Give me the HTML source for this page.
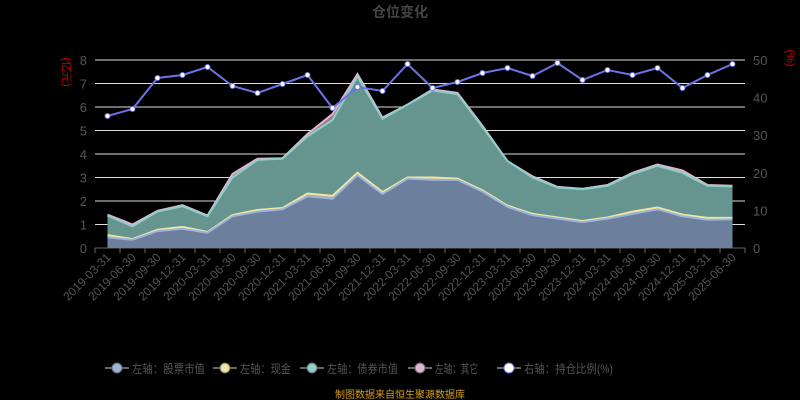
<!DOCTYPE html>
<html><head><meta charset="utf-8"><style>
html,body{margin:0;padding:0;background:#000;width:800px;height:400px;overflow:hidden}
svg text{font-family:"Liberation Sans","Noto Sans CJK SC",sans-serif}
</style></head><body>
<svg id="s" width="800" height="400" xmlns="http://www.w3.org/2000/svg"></svg>
<script>
const S=document.getElementById('s');let h='';
const X0=95,X1=745,Y0=248,YT=60,n=26,bw=(X1-X0)/n;
const x=i=>X0+bw*(i+0.5), y=v=>Y0-(Y0-YT)*v/8;
h+='<text x="400" y="17" fill="#444" font-size="14" font-weight="bold" text-anchor="middle">仓位变化</text>';
for(let k=0;k<=8;k++){const yy=y(k);
 h+=`<line x1="${X0}" x2="${X1}" y1="${yy}" y2="${yy}" stroke="${k?'#ddd':'#666'}" stroke-width="1"/>`;
 h+=`<text x="${X0-8}" y="${yy+5}" fill="#555" font-size="13" text-anchor="end">${k}</text>`;}
for(let k=0;k<=5;k++){h+=`<text x="${X1+8}" y="${Y0-(Y0-YT)*k/5+5}" fill="#555" font-size="13">${k*10}</text>`;}
h+='<text x="63" y="72" fill="#c00" font-size="11" transform="rotate(90 63 72)" text-anchor="middle">(亿元)</text>';
h+='<text x="787" y="58" fill="#c00" font-size="11" transform="rotate(90 787 58)" text-anchor="middle">(%)</text>';
const st=[0.45,0.35,0.72,0.82,0.65,1.35,1.55,1.65,2.2,2.1,3.1,2.3,2.95,2.9,2.9,2.4,1.75,1.4,1.25,1.1,1.25,1.45,1.65,1.35,1.2,1.22];
const ca=[0.55,0.38,0.78,0.9,0.68,1.4,1.62,1.7,2.32,2.22,3.2,2.38,3.0,3.0,2.95,2.45,1.8,1.45,1.3,1.15,1.3,1.55,1.72,1.42,1.28,1.28];
const bo=[1.38,0.92,1.55,1.78,1.35,3.0,3.75,3.8,4.75,5.45,7.3,5.5,6.1,6.7,6.55,5.15,3.7,3.0,2.58,2.5,2.65,3.15,3.5,3.2,2.65,2.62];
const ot=[1.42,1.0,1.58,1.82,1.38,3.15,3.8,3.82,4.85,5.7,7.4,5.55,6.1,6.75,6.6,5.2,3.7,3.05,2.6,2.52,2.68,3.2,3.55,3.3,2.68,2.65];
const ry=[116,109,78,75,67,86,93,84,75,108,87,91,64,88,82,73,68,76,63,80,70,75,68,88,75,64];
function area(top,bot,fill,stroke){let p=top.map((v,i)=>`${x(i)},${y(v)}`).join(' ');
 let q=bot?bot.map((v,i)=>`${x(i)},${y(v)}`).reverse().join(' '):`${x(n-1)},${Y0} ${x(0)},${Y0}`;
 h+=`<polygon points="${p} ${q}" fill="${fill}"/>`;
 h+=`<polyline points="${p}" fill="none" stroke="${stroke}" stroke-width="2"/>`;}
area(ot,bo,'#9a7890','#e2b4d4');
area(bo,ca,'#66958f','#8ecfc8');
area(ca,st,'#b0a880','#f3e5a0');
area(st,null,'#6c7f9c','#9ab4de');
h+=`<polyline points="${ry.map((v,i)=>x(i)+','+v).join(' ')}" fill="none" stroke="#6d72e6" stroke-width="2"/>`;
ry.forEach((v,i)=>h+=`<circle cx="${x(i)}" cy="${v}" r="2.5" fill="#fff" stroke="#6d72e6" stroke-width="1"/>`);
const labs=[];for(let yr=2019;yr<=2025;yr++)for(const m of['03-31','06-30','09-30','12-31'])labs.push(yr+'-'+m);
for(let i=0;i<n;i++){const xx=x(i);
 h+=`<line x1="${X0+bw*i}" x2="${X0+bw*i}" y1="${Y0}" y2="${Y0+5}" stroke="#666"/>`;
 h+=`<text x="${xx+4}" y="${Y0+10}" fill="#555" font-size="12" text-anchor="end" transform="rotate(-45 ${xx+4} ${Y0+10})">${labs[i]}</text>`;}
h+=`<line x1="${X1}" x2="${X1}" y1="${Y0}" y2="${Y0+5}" stroke="#666"/>`;
const lg=[['左轴：股票市值','#9ab4de',105,73],['左轴：现金','#f3e5a0',213,51],['左轴：债券市值','#8ecfc8',300,71],['左轴：其它','#e2b4d4',408,43],['右轴：持仓比例(%)','#fff',497,89]];
lg.forEach(([t,c,lx,w])=>{h+=`<line x1="${lx}" x2="${lx+24}" y1="368" y2="368" stroke="#666" stroke-width="2"/><circle cx="${lx+12}" cy="368" r="5" fill="${c}" stroke="${c=='#fff'?'#6d72e6':'#666'}" stroke-width="1"/>`;
 h+=`<text x="${lx+27}" y="373" fill="#555" font-size="12" textLength="${w}" lengthAdjust="spacingAndGlyphs">${t}</text>`;});
h+='<text x="400" y="398" fill="#d4a017" font-size="10" text-anchor="middle">制图数据来自恒生聚源数据库</text>';
S.innerHTML=h;
</script>
</body></html>
